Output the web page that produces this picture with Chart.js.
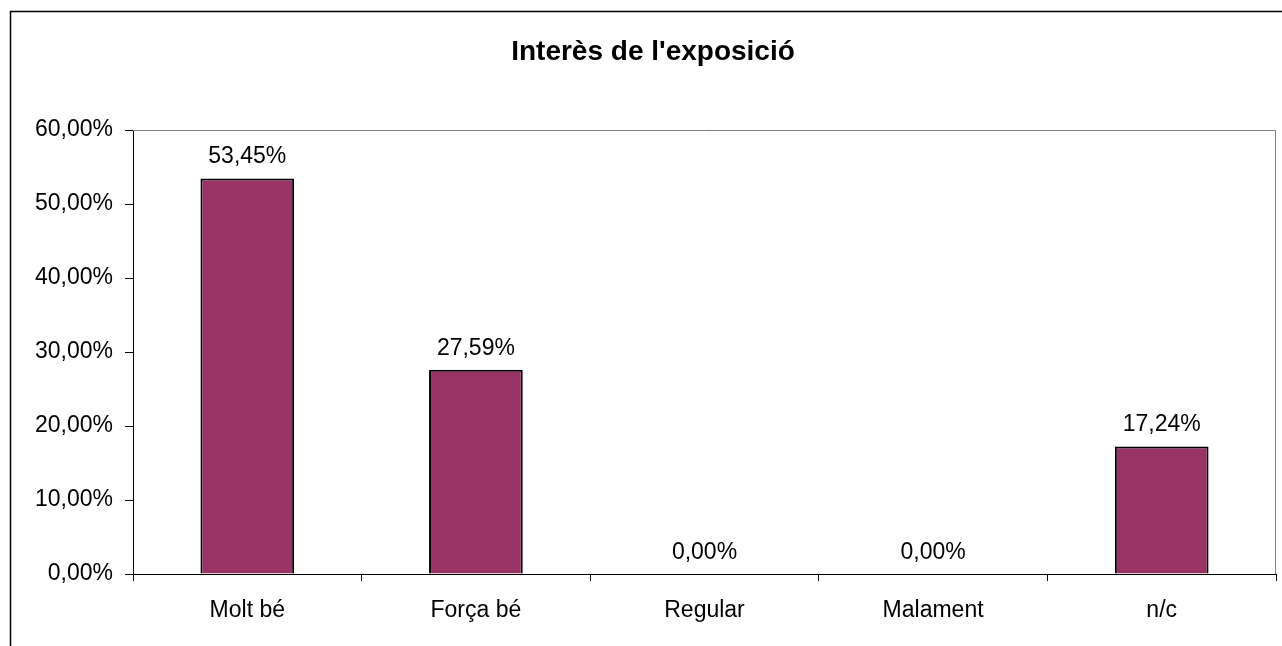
<!DOCTYPE html>
<html>
<head>
<meta charset="utf-8">
<script src="https://cdn.jsdelivr.net/npm/chart.js@4"></script>
<style>
  html, body { margin: 0; padding: 0; background: #fff; }
  #wrap { width: 1282px; height: 646px; position: relative; }
</style>
</head>
<body>
<div id="wrap"><canvas id="barChart"></canvas></div>
<script>
// Data
const categories = ["Molt bé", "Força bé", "Regular", "Malament", "n/c"];
const values = [53.45, 27.59, 0, 0, 17.24];
const yTicks = [0, 10, 20, 30, 40, 50, 60];

const chartTitle = "Interès de l'exposició";
const fontFamily = "'Liberation Sans', Arial, sans-serif";

function pct(v) {
  return v.toFixed(2).replace(".", ",") + "%";
}

// outer frame, title, plot border and value labels
const excelLook = {
  id: "excelLook",
  afterDraw(chart) {
    const ctx = chart.ctx;
    const a = chart.chartArea;
    ctx.save();
    // outer chart frame
    ctx.strokeStyle = "#000";
    ctx.lineWidth = 1.5;
    ctx.beginPath();
    ctx.moveTo(10.5, 660);
    ctx.lineTo(10.5, 11.5);
    ctx.lineTo(1290, 11.5);
    ctx.stroke();
    // plot area top/right border
    ctx.strokeStyle = "#808080";
    ctx.lineWidth = 1;
    ctx.beginPath();
    ctx.moveTo(a.left, a.top + 0.5);
    ctx.lineTo(a.right - 0.5, a.top + 0.5);
    ctx.lineTo(a.right - 0.5, a.bottom);
    ctx.stroke();
    // title
    ctx.fillStyle = "#000";
    ctx.font = "bold 28px " + fontFamily;
    ctx.textAlign = "center";
    ctx.textBaseline = "alphabetic";
    ctx.fillText(chartTitle, 653, 60);
    // value labels
    ctx.font = "23px " + fontFamily;
    const meta = chart.getDatasetMeta(0);
    meta.data.forEach((bar, i) => {
      ctx.fillText(pct(values[i]), bar.x, bar.y - 15);
    });
    ctx.restore();
  }
};

new Chart(document.getElementById("barChart"), {
  type: "bar",
  data: {
    labels: categories,
    datasets: [{
      data: values,
      backgroundColor: "#993366",
      borderColor: "#000",
      borderWidth: 2,
      categoryPercentage: 1,
      barPercentage: 0.41
    }]
  },
  options: {
    responsive: true,
    maintainAspectRatio: false,
    animation: false,
    layout: { padding: { top: 130, right: 6, left: 0, bottom: 0 } },
    plugins: {
      legend: { display: false },
      tooltip: { enabled: false }
    },
    scales: {
      x: {
        grid: { drawOnChartArea: false, drawTicks: true, tickLength: 7, color: "#000", offset: true },
        border: { color: "#000", width: 1 },
        ticks: { color: "#000", padding: 16, font: { family: fontFamily, size: 23 } },
        afterFit(scale) { scale.height = 72; }
      },
      y: {
        min: 0,
        max: 60,
        afterBuildTicks(scale) { scale.ticks = yTicks.map(v => ({ value: v })); },
        grid: { drawOnChartArea: false, drawTicks: true, tickLength: 8, color: "#000" },
        border: { color: "#000", width: 1 },
        ticks: {
          color: "#000",
          padding: 12,
          font: { family: fontFamily, size: 23 },
          callback: v => pct(v)
        },
        afterFit(scale) { scale.width = 133; }
      }
    }
  },
  plugins: [excelLook]
});
</script>
</body>
</html>
